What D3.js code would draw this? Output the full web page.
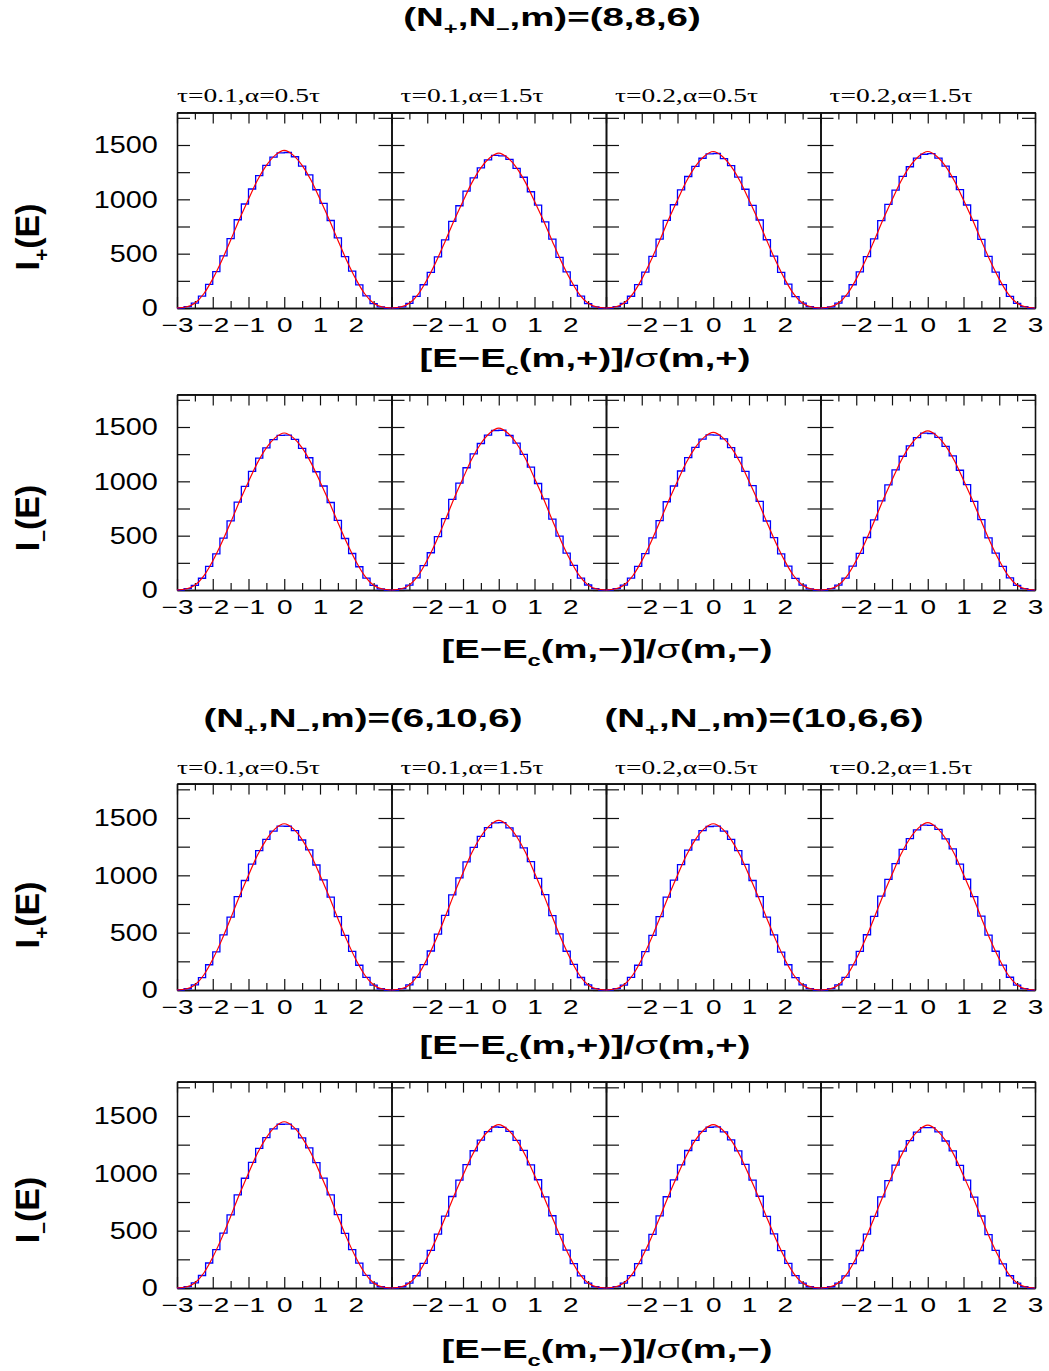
<!DOCTYPE html>
<html>
<head>
<meta charset="utf-8">
<title>Level density histograms</title>
<script src="https://cdn.jsdelivr.net/npm/d3@7"></script>
<style>
  body { margin: 0; background: #fff; }
</style>
</head>
<body>
<div id="chart"></div>
<script>
// ---- data ----
var binEdges = [-3, -2.8, -2.6, -2.4, -2.2, -2, -1.8, -1.6, -1.4, -1.2, -1, -0.8, -0.6, -0.4, -0.2, 0,
                0.2, 0.4, 0.6, 0.8, 1, 1.2, 1.4, 1.6, 1.8, 2, 2.2, 2.4, 2.6, 2.8, 3];
var curveX = [-3, -2.75, -2.5, -2.25, -2, -1.75, -1.5, -1.25, -1, -0.75, -0.5, -0.25, 0,
              0.25, 0.5, 0.75, 1, 1.25, 1.5, 1.75, 2, 2.25, 2.5, 2.75, 3];

var panelTitles = ["τ=0.1,α=0.5τ", "τ=0.1,α=1.5τ", "τ=0.2,α=0.5τ", "τ=0.2,α=1.5τ"];
var xTickLabels = [[-3, -2, -1, 0, 1, 2], [-2, -1, 0, 1, 2], [-2, -1, 0, 1, 2], [-2, -1, 0, 1, 2, 3]];
var yTickLabels = [0, 500, 1000, 1500];
var xMajor = [-3, -2, -1, 0, 1, 2, 3];
var xMinor = [-2.5, -1.5, -0.5, 0.5, 1.5, 2.5];
var yMarks = [0, 250, 500, 750, 1000, 1250, 1500, 1750];

// histograms, row 1 : (8,8,6) I+
var hist_r1 = [
  [0, 12, 44, 109, 218, 334, 479, 638, 812, 957, 1095, 1218, 1312, 1388, 1428, 1431, 1392, 1305, 1225, 1088, 962, 805, 645, 472, 340, 212, 112, 40, 10, 0],
  [0, 11, 43, 107, 214, 328, 470, 627, 798, 941, 1076, 1197, 1290, 1364, 1404, 1400, 1368, 1285, 1203, 1070, 947, 792, 633, 465, 333, 209, 110, 41, 11, 0],
  [0, 12, 43, 108, 216, 331, 475, 634, 806, 950, 1087, 1210, 1303, 1378, 1418, 1422, 1375, 1310, 1204, 1093, 945, 810, 628, 478, 327, 220, 105, 45, 12, 0],
  [0, 11, 44, 110, 214, 333, 472, 636, 804, 953, 1084, 1212, 1300, 1380, 1415, 1420, 1379, 1306, 1208, 1090, 948, 807, 632, 476, 330, 216, 107, 42, 12, 0]
];
// row 2 : (8,8,6) I-
var hist_r2 = [
  [0, 12, 43, 108, 217, 332, 477, 636, 809, 954, 1091, 1214, 1308, 1383, 1423, 1425, 1386, 1304, 1217, 1088, 957, 805, 640, 474, 336, 214, 110, 42, 11, 0],
  [0, 12, 45, 112, 224, 343, 492, 656, 834, 983, 1125, 1252, 1348, 1426, 1468, 1470, 1422, 1352, 1248, 1130, 980, 838, 652, 495, 340, 226, 110, 46, 12, 0],
  [0, 12, 44, 109, 218, 334, 479, 638, 812, 957, 1095, 1218, 1312, 1388, 1428, 1426, 1390, 1310, 1220, 1092, 960, 815, 635, 482, 332, 220, 107, 45, 11, 0],
  [0, 12, 44, 110, 220, 337, 483, 645, 820, 967, 1106, 1231, 1326, 1402, 1443, 1440, 1405, 1322, 1235, 1102, 970, 816, 648, 480, 340, 218, 112, 43, 12, 0]
];
// row 3 : (6,10,6)/(10,6,6) I+
var hist_r3 = [
  [0, 11, 45, 108, 220, 332, 481, 636, 814, 955, 1097, 1216, 1314, 1386, 1430, 1428, 1390, 1308, 1222, 1090, 960, 810, 640, 476, 336, 216, 110, 42, 11, 0],
  [0, 12, 44, 111, 222, 340, 488, 651, 829, 977, 1117, 1243, 1339, 1416, 1458, 1460, 1414, 1342, 1240, 1120, 974, 832, 648, 490, 338, 224, 109, 45, 12, 0],
  [0, 12, 43, 110, 216, 335, 477, 640, 810, 959, 1093, 1220, 1310, 1390, 1426, 1429, 1386, 1314, 1216, 1096, 955, 814, 636, 480, 330, 220, 108, 44, 12, 0],
  [0, 12, 44, 110, 219, 336, 482, 642, 818, 964, 1102, 1226, 1321, 1397, 1438, 1436, 1400, 1318, 1230, 1098, 966, 814, 645, 478, 338, 217, 111, 43, 12, 0]
];
// row 4 : (6,10,6)/(10,6,6) I-
var hist_r4 = [
  [0, 12, 44, 109, 218, 334, 479, 638, 812, 957, 1095, 1218, 1312, 1388, 1428, 1430, 1388, 1310, 1222, 1093, 958, 812, 640, 477, 335, 217, 110, 43, 11, 0],
  [0, 11, 43, 107, 214, 328, 470, 627, 798, 941, 1076, 1197, 1290, 1364, 1404, 1400, 1366, 1288, 1200, 1074, 944, 795, 630, 468, 330, 212, 106, 42, 11, 0],
  [0, 12, 42, 108, 212, 330, 468, 629, 796, 943, 1074, 1199, 1288, 1366, 1402, 1405, 1362, 1292, 1196, 1078, 940, 800, 625, 472, 326, 215, 108, 43, 11, 0],
  [0, 11, 43, 106, 213, 327, 469, 625, 795, 937, 1072, 1193, 1285, 1359, 1399, 1398, 1362, 1282, 1196, 1070, 940, 792, 628, 466, 328, 211, 107, 42, 11, 0]
];

// fitted curves (red), sampled at curveX
var curve_r1 = [
  [0, 9, 44, 131, 268, 435, 624, 819, 1001, 1175, 1312, 1407, 1450, 1407, 1312, 1175, 1001, 819, 624, 435, 268, 131, 44, 9, 0],
  [0, 9, 43, 128, 264, 428, 613, 805, 983, 1154, 1290, 1382, 1425, 1382, 1290, 1154, 983, 805, 613, 428, 264, 128, 43, 9, 0],
  [0, 9, 43, 130, 266, 432, 619, 814, 994, 1166, 1303, 1397, 1440, 1397, 1303, 1166, 994, 814, 619, 432, 266, 130, 43, 9, 0],
  [0, 9, 43, 130, 266, 432, 619, 814, 994, 1166, 1303, 1397, 1440, 1397, 1303, 1166, 994, 814, 619, 432, 266, 130, 43, 9, 0]
];
var curve_r2 = [
  [0, 9, 43, 130, 267, 434, 621, 816, 997, 1170, 1308, 1402, 1445, 1402, 1308, 1170, 997, 816, 621, 434, 267, 130, 43, 9, 0],
  [0, 9, 45, 134, 276, 447, 641, 842, 1028, 1207, 1348, 1445, 1490, 1445, 1348, 1207, 1028, 842, 641, 447, 276, 134, 45, 9, 0],
  [0, 9, 44, 131, 268, 435, 624, 819, 1001, 1175, 1312, 1407, 1450, 1407, 1312, 1175, 1001, 819, 624, 435, 268, 131, 44, 9, 0],
  [0, 9, 44, 132, 271, 440, 630, 828, 1011, 1187, 1326, 1421, 1465, 1421, 1326, 1187, 1011, 828, 630, 440, 271, 132, 44, 9, 0]
];
var curve_r3 = [
  [0, 9, 44, 131, 268, 435, 624, 819, 1001, 1175, 1312, 1407, 1450, 1407, 1312, 1175, 1001, 819, 624, 435, 268, 131, 44, 9, 0],
  [0, 9, 44, 133, 274, 444, 636, 836, 1021, 1199, 1339, 1436, 1480, 1436, 1339, 1199, 1021, 836, 636, 444, 274, 133, 44, 9, 0],
  [0, 9, 44, 131, 268, 435, 624, 819, 1001, 1175, 1312, 1407, 1450, 1407, 1312, 1175, 1001, 819, 624, 435, 268, 131, 44, 9, 0],
  [0, 9, 44, 131, 270, 438, 628, 825, 1007, 1183, 1321, 1416, 1460, 1416, 1321, 1183, 1007, 825, 628, 438, 270, 131, 44, 9, 0]
];
var curve_r4 = [
  [0, 9, 44, 131, 268, 435, 624, 819, 1001, 1175, 1312, 1407, 1450, 1407, 1312, 1175, 1001, 819, 624, 435, 268, 131, 44, 9, 0],
  [0, 9, 43, 128, 264, 428, 613, 805, 983, 1154, 1290, 1382, 1425, 1382, 1290, 1154, 983, 805, 613, 428, 264, 128, 43, 9, 0],
  [0, 9, 43, 128, 264, 428, 613, 805, 983, 1154, 1290, 1382, 1425, 1382, 1290, 1154, 983, 805, 613, 428, 264, 128, 43, 9, 0],
  [0, 9, 43, 128, 263, 426, 611, 802, 980, 1150, 1285, 1377, 1420, 1377, 1285, 1150, 980, 802, 611, 426, 263, 128, 43, 9, 0]
];

var histRows = [hist_r1, hist_r2, hist_r3, hist_r4];
var curveRows = [curve_r1, curve_r2, curve_r3, curve_r4];

// ---- layout ----
var W = 1049, H = 1371;
var panelLeft = [177, 391.5, 606, 820.5], panelW = 214.5;
var rowBox = [[112.4, 308], [394.4, 590], [783.6, 990], [1081.6, 1288]];   // [top, zero]
var titleOffset = [0, 9, 9, 9];
var sans = "'Liberation Sans', Arial, Helvetica, sans-serif";
var serif = "'Liberation Serif', 'Times New Roman', serif";
var intFmt = d3.format("d");

var svg = d3.select("#chart").append("svg")
  .attr("width", W)
  .attr("height", H)
  .style("background", "#fff");

/* bold text stretched sideways, with optional subscripts */
function richText(x, y, sx, size, anchor, parts, rotate) {
  var t = svg.append("text")
    .attr("transform", "translate(" + x + "," + y + ")" + (rotate ? " rotate(-90)" : "") + " scale(" + sx + ",1)")
    .attr("text-anchor", anchor)
    .attr("font-family", sans)
    .attr("font-size", size)
    .attr("font-weight", "bold")
    .attr("fill", "#000");
  var shift = 0;
  parts.forEach(function(p) {
    var s = t.append("tspan").text(p.t);
    var want = p.sub ? size * 0.3 : 0;
    if (want !== shift) { s.attr("dy", want - shift); shift = want; }
    if (p.sub) s.attr("font-size", size * 0.62);
    if (p.thin) s.attr("font-weight", "normal");
  });
  return t;
}

var histLine = function(x, y) {
  return d3.line().x(function(d) { return x(d[0]); }).y(function(d) { return y(d[1]); });
};

rowBox.forEach(function(rb, r) {
  var y = d3.scaleLinear().domain([0, 1800]).range([rb[1], rb[0]]);

  panelLeft.forEach(function(pl, c) {
    var x = d3.scaleLinear().domain([-3, 3]).range([pl, pl + panelW]);
    var g = svg.append("g");

    /* frame + inward ticks */
    var axes = [
      [d3.axisBottom(x).tickValues(xMajor).tickSize(-11), "translate(0," + rb[1] + ")"],
      [d3.axisBottom(x).tickValues(xMinor).tickSize(-7), "translate(0," + rb[1] + ")"],
      [d3.axisTop(x).tickValues(xMajor).tickSize(-11), "translate(0," + rb[0] + ")"],
      [d3.axisTop(x).tickValues(xMinor).tickSize(-7), "translate(0," + rb[0] + ")"],
      [d3.axisLeft(y).tickValues(yMarks).tickSize(-13), "translate(" + pl + ",0)"],
      [d3.axisRight(y).tickValues(yMarks).tickSize(-13), "translate(" + (pl + panelW) + ",0)"]
    ];
    axes.forEach(function(a) {
      var ag = g.append("g").attr("transform", a[1])
        .call(a[0].tickSizeOuter(0).tickFormat(""));
      ag.select(".domain").attr("stroke", "#111").attr("stroke-width", 1.6);
      ag.selectAll(".tick line").attr("stroke", "#111").attr("stroke-width", 1.2);
    });

    /* histogram */
    var pts = [];
    histRows[r][c].forEach(function(v, i) {
      pts.push([binEdges[i], v]);
      pts.push([binEdges[i + 1], v]);
    });
    g.append("path").datum(pts)
      .attr("d", histLine(x, y))
      .attr("fill", "none")
      .attr("stroke", "#0000ff")
      .attr("stroke-width", 1.3);

    /* fitted curve */
    var cpts = curveX.map(function(u, i) { return [u, curveRows[r][c][i]]; });
    g.append("path").datum(cpts)
      .attr("d", histLine(x, y).curve(d3.curveMonotoneX))
      .attr("fill", "none")
      .attr("stroke", "#ff0000")
      .attr("stroke-width", 1.2);

    /* x tick labels */
    var xl = g.append("g").attr("transform", "translate(0," + rb[1] + ")")
      .call(d3.axisBottom(x).tickValues(xTickLabels[c]).tickFormat(intFmt).tickSize(0).tickPadding(10));
    xl.select(".domain").remove();
    xl.selectAll("text")
      .attr("font-family", sans).attr("font-size", 20).attr("fill", "#000")
      .attr("transform", "scale(1.4,1)");

    /* y tick labels */
    if (c === 0) {
      var yl = g.append("g").attr("transform", "translate(" + pl + ",0)")
        .call(d3.axisLeft(y).tickValues(yTickLabels).tickFormat(intFmt).tickSize(0).tickPadding(16));
      yl.select(".domain").remove();
      yl.selectAll("text")
        .attr("font-family", sans).attr("font-size", 24).attr("fill", "#000")
        .attr("transform", "scale(1.2,1)");
    }

    /* panel titles */
    if (r === 0 || r === 2) {
      svg.append("text")
        .attr("x", pl + titleOffset[c])
        .attr("y", rb[0] - 10)
        .attr("font-family", serif)
        .attr("font-size", 19)
        .attr("textLength", 143)
        .attr("lengthAdjust", "spacingAndGlyphs")
        .text(panelTitles[c]);
    }
  });
});

/* headings */
richText(552, 26, 1.48, 26, "middle", [{t: "(N"}, {t: "+", sub: true}, {t: ",N"}, {t: "–", sub: true}, {t: ",m)=(8,8,6)"}]);
richText(363, 727, 1.48, 26, "middle", [{t: "(N"}, {t: "+", sub: true}, {t: ",N"}, {t: "–", sub: true}, {t: ",m)=(6,10,6)"}]);
richText(764, 727, 1.48, 26, "middle", [{t: "(N"}, {t: "+", sub: true}, {t: ",N"}, {t: "–", sub: true}, {t: ",m)=(10,6,6)"}]);

/* x axis titles */
var xTitleX = [585, 607, 585, 607];
var xTitleY = [367, 658, 1054, 1358];
var xSign = ["+", "−", "+", "−"];
xTitleX.forEach(function(cx, r) {
  richText(cx, xTitleY[r], 1.47, 26, "middle",
    [{t: "[E−E"}, {t: "c", sub: true}, {t: "(m," + xSign[r] + ")]/"}, {t: "σ", thin: true}, {t: "(m," + xSign[r] + ")"}]);
});

/* y axis titles */
var yTitleY = [237, 518, 915, 1210];
var ySign = ["+", "–", "+", "–"];
yTitleY.forEach(function(cy, r) {
  richText(39, cy, 1, 34, "middle", [{t: "I"}, {t: ySign[r], sub: true}, {t: "(E)"}], true);
});
</script>
</body>
</html>
